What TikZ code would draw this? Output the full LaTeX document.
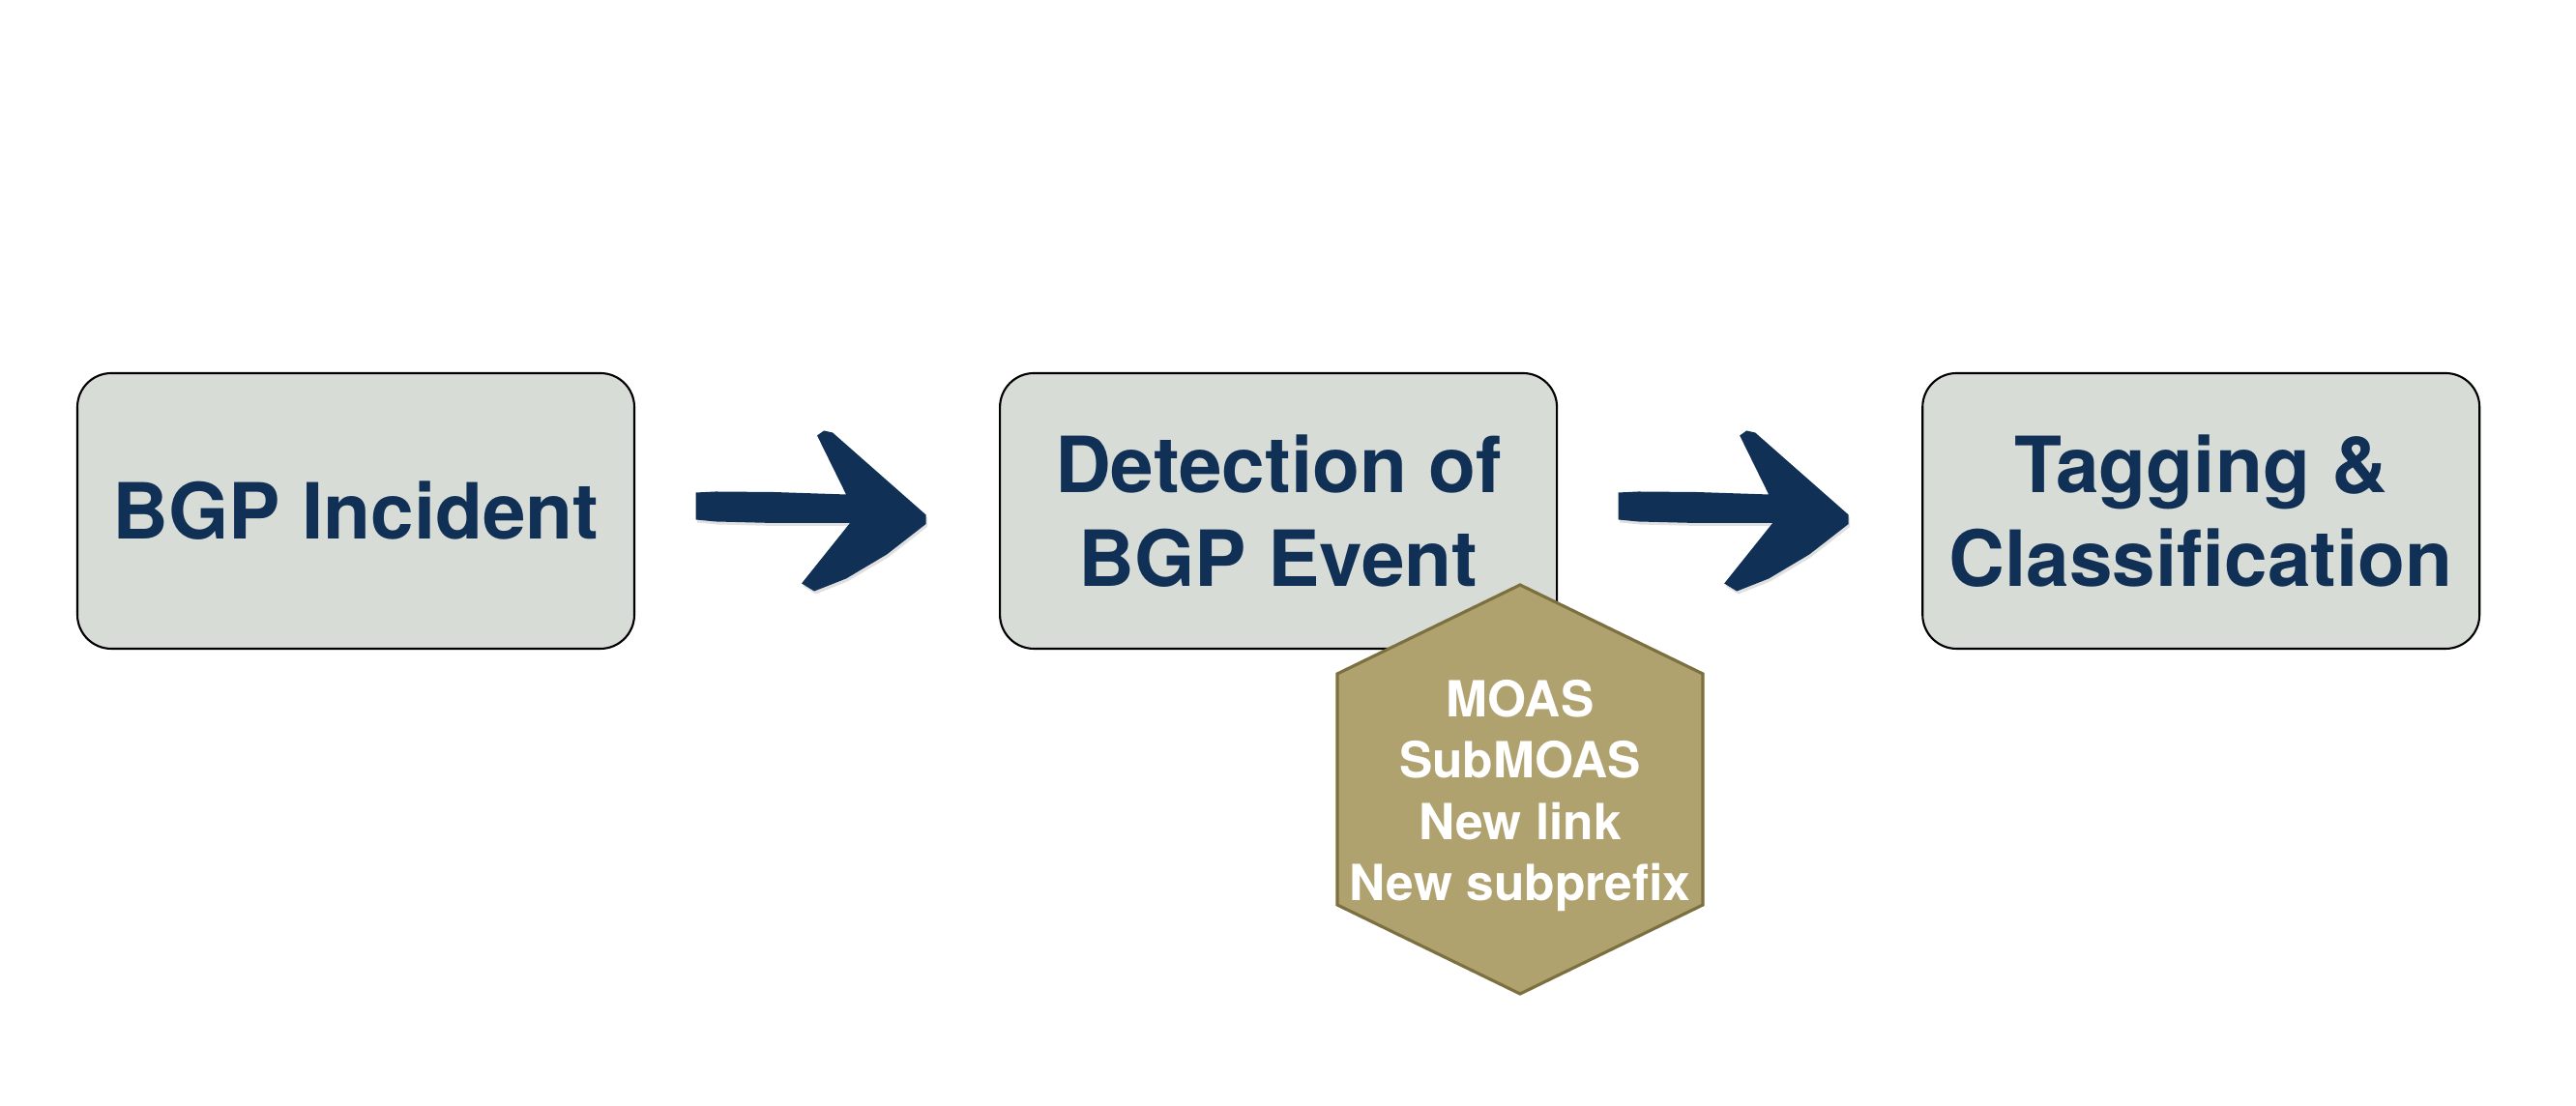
\documentclass[tikz,border=0pt]{standalone}
\usepackage{fontspec}
\setmainfont{TeX Gyre Heros}
\usepackage{tikz}
\usetikzlibrary{positioning, calc}
\definecolor{NV}{RGB}{17,48,86}
\definecolor{BX}{RGB}{215,220,215}
\definecolor{HX}{RGB}{176,162,110}
\definecolor{HD}{RGB}{125,112,64}

\begin{document}
\begin{tikzpicture}[
  stage/.style={draw=black, line width=0.6pt, rounded corners=10pt, fill=BX,
                text=NV, minimum width=5.76cm, minimum height=2.85cm,
                inner sep=0pt, align=center,
                font=\fontsize{22.8}{27.6}\selectfont\bfseries},
  hexbox/.style={draw=HD, line width=0.9pt, fill=HX},
  hextext/.style={text=white, inner sep=0pt, align=center,
                  font=\fontsize{14.65}{18.1}\selectfont\bfseries},
  brush/.style={fill=NV, line join=round},
  brushshade/.style={fill=black!12}
]
\useasboundingbox (0,0) rectangle (26.64,11.44);

% Stages
\node[stage] (inc) at (3.68,6.155) {BGP Incident};
\node[stage, right=3.76cm of inc] (det) {Detection of\\BGP Event};
\node[stage, right=3.76cm of det] (tag) {Tagging \&\\Classification};

% Brush arrows between stages
\foreach \a/\b in {inc/det, det/tag} {
  \path ($(\a.east)!0.5!(\b.west)$) coordinate (m\a);
  \foreach \s/\o in {brushshade/{(0.015,-0.03)}, brush/{(0,0)}}
    \fill[\s, shift={(m\a)}, shift=\o]
      (-1.255,0.19) -- (-1.05,0.2) -- (-0.45,0.195) -- (0.3,0.17)
      -- (0.0,0.78) -- (0.07,0.83) -- (0.16,0.81)
      -- (1.125,-0.04) -- (1.125,-0.135)
      -- (0.72,-0.45) -- (0.3,-0.7) -- (-0.03,-0.83) -- (-0.16,-0.75)
      -- (0.34,-0.125) -- (-0.45,-0.125) -- (-1.05,-0.11)
      -- (-1.255,-0.09) -- cycle;
}

% Event types
\coordinate (hx) at (15.72,3.27);
\draw[hexbox] ($(hx)+(0,2.12)$) -- ++(1.89,-0.92) -- ++(0,-2.39)
  -- ++(-1.89,-0.92) -- ++(-1.89,0.92) -- ++(0,2.39) -- cycle;
\node[hextext, below=0.06cm of hx, anchor=center] (evt)
  {MOAS\\SubMOAS\\New link\\New subprefix};
\end{tikzpicture}
\end{document}
